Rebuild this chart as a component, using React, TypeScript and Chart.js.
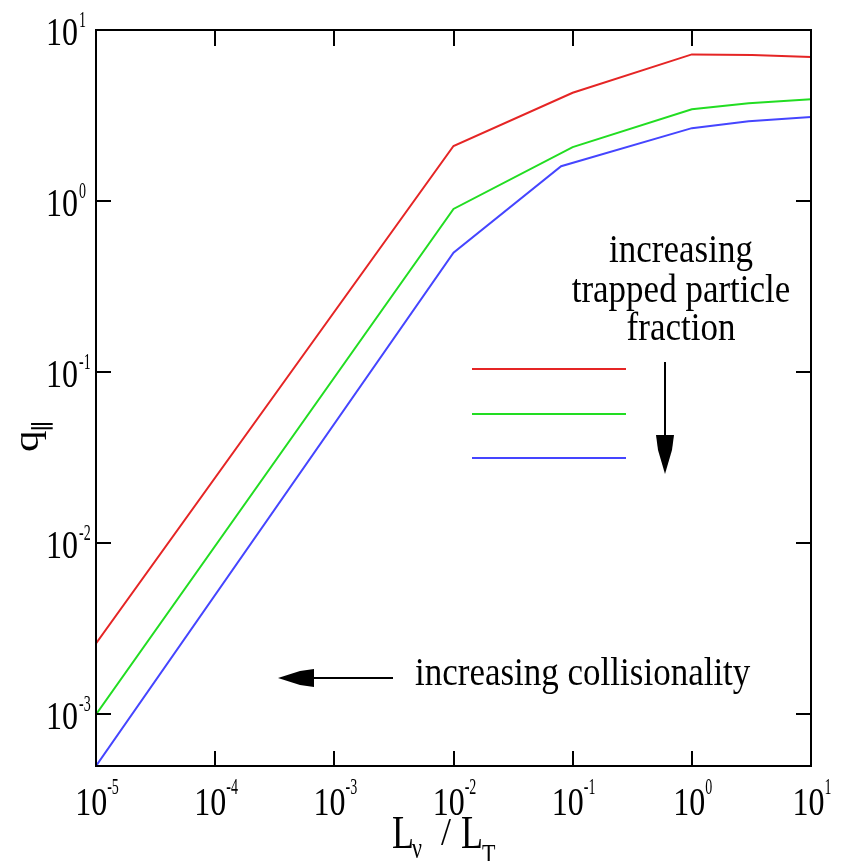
import React, { useEffect, useRef } from "react";
import { Chart, registerables } from "chart.js";

Chart.register(...registerables);

// ---- data ----
const xTicks = [1e-5, 1e-4, 1e-3, 1e-2, 1e-1, 1, 10];
const xTickExponents = ["-5", "-4", "-3", "-2", "-1", "0", "1"];
const yTicks = [1e-3, 1e-2, 1e-1, 1, 10];
const yTickExponents = ["-3", "-2", "-1", "0", "1"];

const redX = [1e-5, 1e-2, 1e-1, 1, 3.2, 10];
const redY = [2.6e-3, 2.1, 4.3, 7.2, 7.15, 6.95];
const greenX = [1e-5, 1e-2, 1e-1, 1, 3, 10];
const greenY = [1e-3, 0.9, 2.07, 3.44, 3.73, 3.94];
const blueX = [1e-5, 1e-2, 0.08, 1, 3, 10];
const blueY = [5e-4, 0.5, 1.6, 2.67, 2.93, 3.1];

const seriesColors = ["#e52525", "#22dd22", "#4545ff"];
const trappedLabel = ["increasing", "trapped particle", "fraction"];
const collisionLabel = "increasing collisionality";

const FONT = '"Liberation Serif", "Times New Roman", serif';

function txt(
  ctx: CanvasRenderingContext2D,
  s: string,
  x: number,
  y: number,
  size: number,
  align: CanvasTextAlign = "left",
  sy = 1.25,
  family = FONT
) {
  ctx.save();
  ctx.font = `${size}px ${family}`;
  ctx.textAlign = align;
  ctx.textBaseline = "alphabetic";
  ctx.fillStyle = "#000";
  ctx.translate(x, y);
  ctx.scale(1, sy);
  ctx.fillText(s, 0, 0);
  ctx.restore();
}

function measure(ctx: CanvasRenderingContext2D, s: string, size: number, family = FONT) {
  ctx.save();
  ctx.font = `${size}px ${family}`;
  const w = ctx.measureText(s).width;
  ctx.restore();
  return w;
}

const decorPlugin = {
  id: "decor",
  afterDraw(chart: any) {
    const ctx: CanvasRenderingContext2D = chart.ctx;
    const a = chart.chartArea;
    const xs = chart.scales.x;
    const ys = chart.scales.y;
    ctx.save();
    ctx.strokeStyle = "#000";
    ctx.fillStyle = "#000";
    ctx.lineWidth = 2;
    // frame
    ctx.strokeRect(a.left, a.top, a.right - a.left, a.bottom - a.top);
    // ticks
    ctx.beginPath();
    xTicks.forEach((v) => {
      const px = Math.round(xs.getPixelForValue(v));
      if (px > a.left + 2 && px < a.right - 2) {
        ctx.moveTo(px, a.bottom);
        ctx.lineTo(px, a.bottom - 15);
        ctx.moveTo(px, a.top);
        ctx.lineTo(px, a.top + 16);
      }
    });
    yTicks.forEach((v) => {
      const py = Math.round(ys.getPixelForValue(v));
      if (py > a.top + 2 && py < a.bottom - 2) {
        ctx.moveTo(a.left, py);
        ctx.lineTo(a.left + 15, py);
        ctx.moveTo(a.right, py);
        ctx.lineTo(a.right - 15, py);
      }
    });
    ctx.stroke();

    // y tick labels
    yTicks.forEach((v, i) => {
      const py = ys.getPixelForValue(v);
      txt(ctx, "10", a.left - 18, py + 15, 32, "right", 1.22);
      txt(ctx, yTickExponents[i], a.left - 17, py - 3, 14, "left", 1.6);
    });
    // x tick labels
    const w10 = measure(ctx, "10", 32);
    xTicks.forEach((v, i) => {
      const px = xs.getPixelForValue(v);
      const we = measure(ctx, xTickExponents[i], 14);
      const start = px - (w10 + we) / 2 + 1;
      txt(ctx, "10", start, a.bottom + 49, 32, "left", 1.27);
      txt(ctx, xTickExponents[i], start + w10, a.bottom + 28, 14, "left", 1.6);
    });

    // x axis title  L_ν / L_T
    const wL = measure(ctx, "L", 36);
    txt(ctx, "L", 392, 848, 36, "left", 1.3);
    txt(ctx, "ν", 392 + wL - 2, 858, 22, "left", 1.3);
    txt(ctx, "/", 441, 845, 36, "left", 1.1);
    txt(ctx, "L", 461, 848, 36, "left", 1.3);
    txt(ctx, "T", 461 + wL - 1, 864, 22, "left", 1.3);

    // y axis title q∥ (rotated)
    ctx.save();
    ctx.translate(38, 452);
    ctx.rotate(-Math.PI / 2);
    ctx.scale(1.2, 1);
    ctx.font = `36px ${FONT}`;
    ctx.textBaseline = "alphabetic";
    ctx.fillText("q", 0, 0);
    const wq = ctx.measureText("q").width;
    ctx.font = `22px "DejaVu Sans", sans-serif`;
    ctx.fillText("∥", wq - 2, 10);
    ctx.restore();

    // legend key lines
    const legendY = [369, 414, 458];
    seriesColors.forEach((c, i) => {
      ctx.strokeStyle = c;
      ctx.lineWidth = 2;
      ctx.beginPath();
      ctx.moveTo(472, legendY[i]);
      ctx.lineTo(626, legendY[i]);
      ctx.stroke();
    });

    // trapped particle annotation
    const bases = [262, 302, 340];
    trappedLabel.forEach((s, i) => txt(ctx, s, 681, bases[i], 35, "center", 1.15));
    // down arrow
    ctx.strokeStyle = "#000";
    ctx.lineWidth = 2;
    ctx.beginPath();
    ctx.moveTo(665, 362);
    ctx.lineTo(665, 440);
    ctx.stroke();
    ctx.beginPath();
    ctx.moveTo(656, 435);
    ctx.lineTo(674, 435);
    ctx.lineTo(672, 450);
    ctx.lineTo(665, 474);
    ctx.lineTo(658, 450);
    ctx.closePath();
    ctx.fill();

    // collisionality annotation
    txt(ctx, collisionLabel, 415, 685, 35, "left", 1.15);
    ctx.beginPath();
    ctx.moveTo(393, 678);
    ctx.lineTo(305, 678);
    ctx.stroke();
    ctx.beginPath();
    ctx.moveTo(314, 669);
    ctx.lineTo(314, 687);
    ctx.lineTo(300, 685);
    ctx.lineTo(278, 678);
    ctx.lineTo(300, 671);
    ctx.closePath();
    ctx.fill();

    ctx.restore();
  },
};

function toPoints(xs: number[], ys: number[]) {
  return xs.map((x, i) => ({ x, y: ys[i] }));
}

export default function App() {
  const ref = useRef<HTMLCanvasElement | null>(null);
  useEffect(() => {
    if (!ref.current) return;
    const chart = new Chart(ref.current, {
      type: "line",
      data: {
        datasets: [
          { data: toPoints(redX, redY), borderColor: seriesColors[0] },
          { data: toPoints(greenX, greenY), borderColor: seriesColors[1] },
          { data: toPoints(blueX, blueY), borderColor: seriesColors[2] },
        ].map((d) => ({
          ...d,
          borderWidth: 2,
          pointRadius: 0,
          tension: 0,
          fill: false,
        })),
      },
      options: {
        animation: false,
        responsive: false,
        layout: { padding: { left: 96, top: 30, right: 30, bottom: 95 } },
        plugins: { legend: { display: false }, tooltip: { enabled: false } },
        scales: {
          x: { type: "logarithmic", min: 1e-5, max: 10, display: false },
          y: { type: "logarithmic", min: 5e-4, max: 10, display: false },
        },
      },
      plugins: [decorPlugin],
    });
    return () => chart.destroy();
  }, []);
  return (
    <div style={{ position: "absolute", left: 0, top: 0, width: 841, height: 861, background: "#fff" }}>
      <canvas ref={ref} width={841} height={861} style={{ display: "block" }} />
    </div>
  );
}
